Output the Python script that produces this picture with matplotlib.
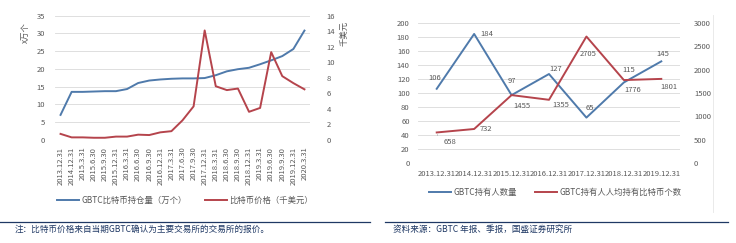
import matplotlib
matplotlib.use("Agg")
import matplotlib.pyplot as plt
from matplotlib.lines import Line2D

plt.rcParams['font.family'] = ['Noto Sans CJK SC', 'DejaVu Sans']

# ---- left chart data
dates_l = ["2013.12.31", "2014.12.31", "2015.3.31", "2015.6.30", "2015.9.30",
           "2015.12.31", "2016.3.31", "2016.6.30", "2016.9.30", "2016.12.31",
           "2017.3.31", "2017.6.30", "2017.9.30", "2017.12.31", "2018.3.31",
           "2018.6.30", "2018.9.30", "2018.12.31", "2019.3.31", "2019.6.30",
           "2019.9.30", "2019.12.31", "2020.3.31"]
holdings = [7.0, 13.5, 13.5, 13.6, 13.7, 13.7, 14.3, 16.0, 16.7, 17.0, 17.2, 17.3,
            17.3, 17.4, 18.2, 19.3, 19.9, 20.3, 21.3, 22.4, 23.6, 25.6, 30.8]
btc_price = [0.75, 0.3, 0.3, 0.25, 0.25, 0.4, 0.4, 0.65, 0.6, 0.95, 1.1, 2.5,
             4.3, 14.1, 6.9, 6.4, 6.6, 3.6, 4.1, 11.3, 8.2, 7.3, 6.5]

# ---- right chart data
years_r = ["2013.12.31", "2014.12.31", "2015.12.31", "2016.12.31",
           "2017.12.31", "2018.12.31", "2019.12.31"]
holders = [106, 184, 97, 127, 65, 115, 145]
per_holder = [658, 732, 1455, 1355, 2705, 1776, 1801]

BLUE = "#4f7aab"
RED = "#b5444c"
GRID = "#d9d9d9"
TXT = "#595959"
NOTE = "#1f3864"

W, H = 736, 243
fig = plt.figure(figsize=(W / 100, H / 100), dpi=100)


def box(x0, y0, x1, y1):
    return [x0 / W, 1 - y1 / H, (x1 - x0) / W, (y1 - y0) / H]


def style(ax):
    for s in ax.spines.values():
        s.set_visible(False)
    ax.tick_params(length=0, labelsize=5.5, colors=TXT)


# ================= left chart
ax1 = fig.add_axes(box(55, 15.7, 310, 139.7))
ax2 = ax1.twinx()
x = range(len(dates_l))
ax1.plot(x, holdings, color=BLUE, lw=1.4)
ax2.plot(x, btc_price, color=RED, lw=1.4)
ax1.set_xlim(-0.5, len(dates_l) - 0.5)
ax1.set_ylim(0, 35)
ax1.set_yticks(range(0, 36, 5))
ax2.set_ylim(0, 16)
ax2.set_yticks(range(0, 17, 2))
ax1.set_xticks(list(x))
ax1.set_xticklabels(dates_l, rotation=90)
ax1.yaxis.grid(True, color=GRID, lw=0.6)
ax1.set_axisbelow(True)
for a in (ax1, ax2):
    style(a)
ax1.tick_params(axis='y', pad=7)
ax1.tick_params(axis='x', pad=5)
ax2.tick_params(axis='y', pad=12)
ax1.set_ylabel("x万个", fontsize=6, color=TXT, labelpad=2)
ax2.set_ylabel("千美元", fontsize=6, color=TXT, rotation=90, labelpad=3)
ax2.yaxis.set_label_coords(1.115, 0.86)
ax1.yaxis.set_label_coords(-0.1, 0.86)

h1 = [Line2D([], [], color=BLUE, lw=1.4), Line2D([], [], color=RED, lw=1.4)]
fig.legend(h1, ["GBTC比特币持仓量（万个）", "比特币价格（千美元）"],
           loc="center", bbox_to_anchor=(185 / W, 1 - 200 / H), ncol=2,
           frameon=False, fontsize=6, handlelength=2.6, columnspacing=2.2,
           handletextpad=0.3, labelcolor=TXT)

# ================= right chart
ax3 = fig.add_axes(box(418, 22.7, 680, 163.3))
ax4 = ax3.twinx()
xr = list(range(len(years_r)))
ax3.plot(xr, holders, color=BLUE, lw=1.4)
ax4.plot(xr, per_holder, color=RED, lw=1.4)
ax3.set_xlim(-0.5, len(years_r) - 0.5)
ax3.set_ylim(0, 200)
ax3.set_yticks(range(0, 201, 20))
ax4.set_ylim(0, 3000)
ax4.set_yticks(range(0, 3001, 500))
ax3.set_xticks(xr)
ax3.set_xticklabels(years_r)
ax3.yaxis.grid(True, color=GRID, lw=0.6)
ax3.set_axisbelow(True)
for a in (ax3, ax4):
    style(a)
ax3.tick_params(axis='y', pad=6)
ax3.tick_params(axis='x', pad=5)
ax4.tick_params(axis='y', pad=10)

blue_off = [(-2, 11), (13, 0), (0, 14), (7, 5), (3, 10), (5, 12), (2, 7)]
red_off = [(13, -10), (12, 0), (10, -11), (12, -5), (2, -17), (9, -10), (8, -8)]
for i, v in enumerate(holders):
    ax3.annotate(str(v), (i, v), xytext=blue_off[i], textcoords="offset pixels",
                 ha="center", va="center", fontsize=5.5, color=TXT)
for i, v in enumerate(per_holder):
    kw = {}
    if i == 0:
        kw["arrowprops"] = dict(arrowstyle="-", color="#a6a6a6", lw=0.5,
                                connectionstyle="angle,angleA=0,angleB=90,rad=0",
                                shrinkA=6, shrinkB=1)
    ax4.annotate(str(v), (i, v), xytext=red_off[i], textcoords="offset pixels",
                 ha="center", va="center", fontsize=5.5, color=TXT, **kw)

h2 = [Line2D([], [], color=BLUE, lw=1.4), Line2D([], [], color=RED, lw=1.4)]
fig.legend(h2, ["GBTC持有人数量", "GBTC持有人人均持有比特币个数"],
           loc="center", bbox_to_anchor=(555 / W, 1 - 192 / H), ncol=2,
           frameon=False, fontsize=6, handlelength=2.6, columnspacing=2.2,
           handletextpad=0.3, labelcolor=TXT)

# faint frame line right of the right chart
fig.add_artist(Line2D([713 / W, 713 / W], [1 - 15 / H, 1 - 212 / H],
                      color="#e6e6e6", lw=0.6))

# ================= notes
fig.add_artist(Line2D([0, 370 / W], [1 - 222 / H] * 2, color=NOTE, lw=0.9))
fig.add_artist(Line2D([385 / W, 728 / W], [1 - 222 / H] * 2, color=NOTE, lw=0.9))
fig.text(15 / W, 1 - 229 / H, "注：比特币价格来自当期GBTC确认为主要交易所的交易所的报价。",
         fontsize=6.2, color=NOTE, style="italic", va="center")
fig.text(393 / W, 1 - 229 / H, "资料来源：GBTC 年报、季报，国盛证券研究所",
         fontsize=6.2, color=NOTE, style="italic", va="center")

fig.savefig("out.png", dpi=100)
